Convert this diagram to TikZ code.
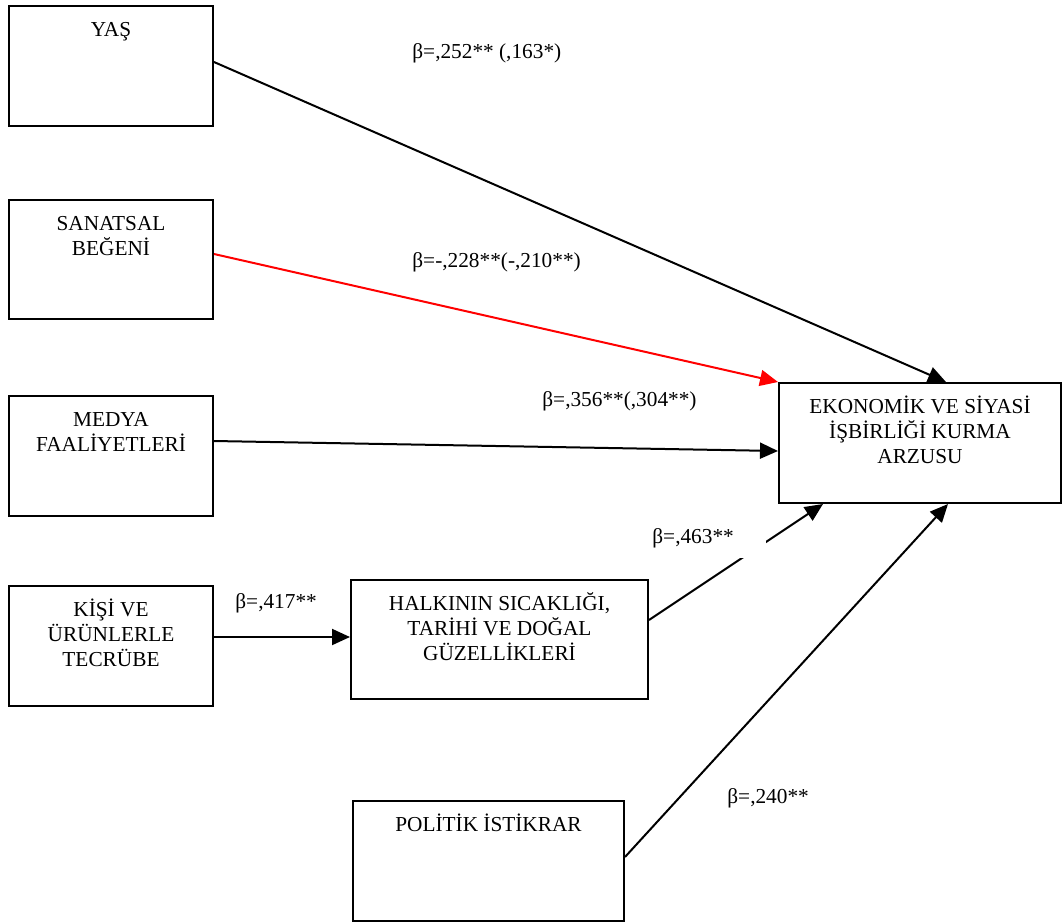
\documentclass[tikz,border=0pt]{standalone}
\usepackage{fontspec}
\setmainfont{Liberation Serif}
\usetikzlibrary{arrows.meta,calc}
% text of a variable box: fixed width and height, lines centred from the top
\newcommand\boxlabel[3]{\parbox[t][#2][t]{#1}{\centering\rule{0pt}{15pt}#3}}
\begin{document}
\begin{tikzpicture}[x=0.5pt,y=-0.5pt,
  every node/.style={font=\fontsize{10.65pt}{12.5pt}\selectfont},
  varbox/.style={draw, line width=1pt, inner sep=0pt, anchor=north west},
  link/.style={line width=1pt, -{Triangle[length=9pt,width=8pt]}},
  coef/.style={anchor=base west, inner sep=0pt}]
\useasboundingbox (0,0) rectangle (1062,922);

% variables
\node[varbox] (yas)  at (8,5)     {\boxlabel{102pt}{60pt}{YAŞ}};
\node[varbox] (san)  at (8,199)   {\boxlabel{102pt}{59.5pt}{SANATSAL\\BEĞENİ}};
\node[varbox] (med)  at (8,395)   {\boxlabel{102pt}{60pt}{MEDYA\\FAALİYETLERİ}};
\node[varbox] (kisi) at (8,585)   {\boxlabel{102pt}{60pt}{KİŞİ VE\\ÜRÜNLERLE\\TECRÜBE}};
\node[varbox] (halk) at (350,579) {\boxlabel{148.5pt}{59.5pt}{HALKININ SICAKLIĞI,\\TARİHİ VE DOĞAL\\GÜZELLİKLERİ}};
\node[varbox] (pol)  at (352,800) {\boxlabel{135.5pt}{60pt}{POLİTİK İSTİKRAR}};
\node[varbox] (eko)  at (778,382) {\boxlabel{141pt}{60pt}{EKONOMİK VE SİYASİ\\İŞBİRLİĞİ KURMA\\ARZUSU}};

% paths
\draw[link] ($(yas.north east)+(0,57)$) -- ($(eko.north west)+(168,0)$);
\draw[link, red] ($(san.north east)+(0,55)$) -- (eko.north west);
\draw[link] ($(med.north east)+(0,46)$) -- ($(eko.north west)+(0,69)$);
\draw[link] ($(kisi.north east)+(0,52)$) -- ($(halk.north west)+(0,58)$);
\draw[link] ($(halk.north east)+(0,41)$) -- ($(eko.south west)+(45,0)$);
\draw[link] ($(pol.north east)+(0,57)$) -- ($(eko.south west)+(170,0)$);

% coefficients
\node[coef] (c1) at (412,58)  {β=,252** (,163*)};
\node[coef] (c2) at (412,267) {β=-,228**(-,210**)};
\node[coef] (c3) at (542,406) {β=,356**(,304**)};
\node[coef] (c4) at (235,608) {β=,417**};
\node[coef, fill=white, inner xsep=6pt, inner ysep=2.5pt,
      text height=10pt, text depth=5pt] (c5) at (640,543) {β=,463**\hspace*{10pt}};
\node[coef] (c6) at (727,803) {β=,240**};
\end{tikzpicture}
\end{document}
